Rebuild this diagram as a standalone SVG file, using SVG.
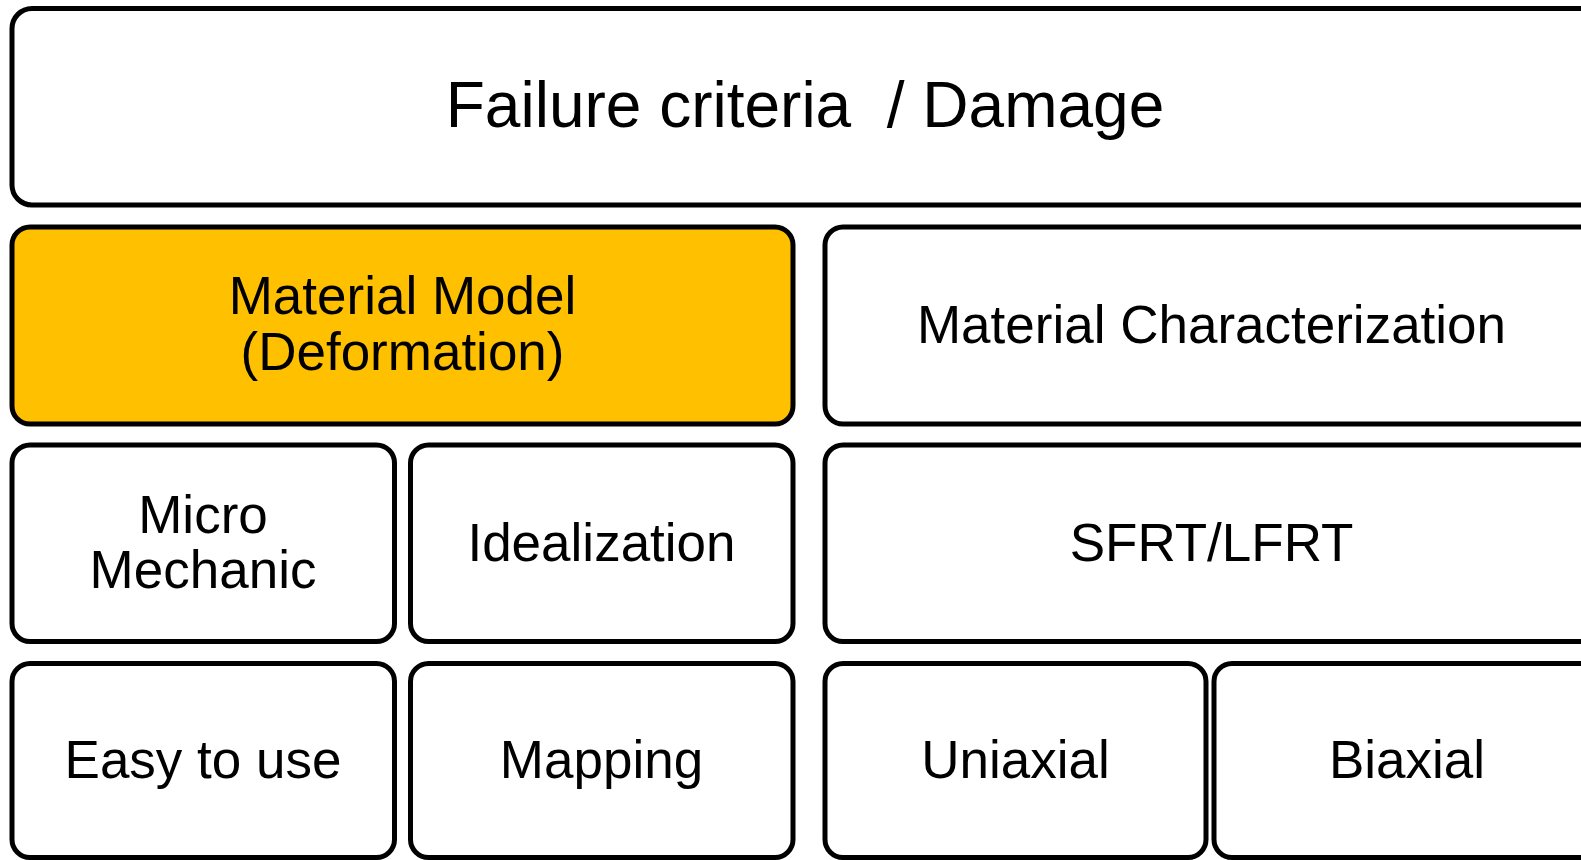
<svg xmlns="http://www.w3.org/2000/svg" width="1581" height="860" viewBox="0 0 1581 860">
  <style>
    .box { fill: #ffffff; stroke: #000000; stroke-width: 5; }
    .hl { fill: #FFC000; }
    .lbl { font-family: "Liberation Sans", Arial, sans-serif; font-size: 53px; fill: #000000; text-anchor: middle; }
    .big { font-size: 64px; white-space: pre; }
  </style>
  <rect width="1581" height="860" fill="#ffffff"/>

  <!-- top banner -->
  <g id="failure">
    <rect class="box" x="12" y="8.5" width="1590" height="196.5" rx="20"/>
    <text class="lbl big" x="805" y="127" xml:space="preserve">Failure criteria  / Damage</text>
  </g>

  <!-- second row -->
  <g id="material-model">
    <rect class="box hl" x="12" y="227" width="781" height="197" rx="18"/>
    <text class="lbl" x="402.5" y="314">Material Model</text>
    <text class="lbl" x="402.5" y="370">(Deformation)</text>
  </g>
  <g id="material-characterization">
    <rect class="box" x="825" y="227" width="777" height="197" rx="18"/>
    <text class="lbl" x="1211.5" y="343">Material Characterization</text>
  </g>

  <!-- third row -->
  <g id="micro-mechanic">
    <rect class="box" x="12" y="445" width="382.5" height="196.5" rx="18"/>
    <text class="lbl" x="203" y="533">Micro</text>
    <text class="lbl" x="203" y="588">Mechanic</text>
  </g>
  <g id="idealization">
    <rect class="box" x="410.5" y="445" width="382.5" height="196.5" rx="18"/>
    <text class="lbl" x="601.5" y="561">Idealization</text>
  </g>
  <g id="sfrt-lfrt">
    <rect class="box" x="825" y="445" width="777" height="196.5" rx="18"/>
    <text class="lbl" x="1211.5" y="561">SFRT/LFRT</text>
  </g>

  <!-- bottom row -->
  <g id="easy-to-use">
    <rect class="box" x="12" y="663.5" width="382.5" height="194" rx="18"/>
    <text class="lbl" x="203" y="778">Easy to use</text>
  </g>
  <g id="mapping">
    <rect class="box" x="410.5" y="663.5" width="382.5" height="194" rx="18"/>
    <text class="lbl" x="601.5" y="778">Mapping</text>
  </g>
  <g id="uniaxial">
    <rect class="box" x="825" y="663.5" width="381" height="194" rx="18"/>
    <text class="lbl" x="1015.5" y="778">Uniaxial</text>
  </g>
  <g id="biaxial">
    <rect class="box" x="1214" y="663.5" width="388" height="194" rx="18"/>
    <text class="lbl" x="1407" y="778">Biaxial</text>
  </g>

  <g id="connectors"/>
</svg>
